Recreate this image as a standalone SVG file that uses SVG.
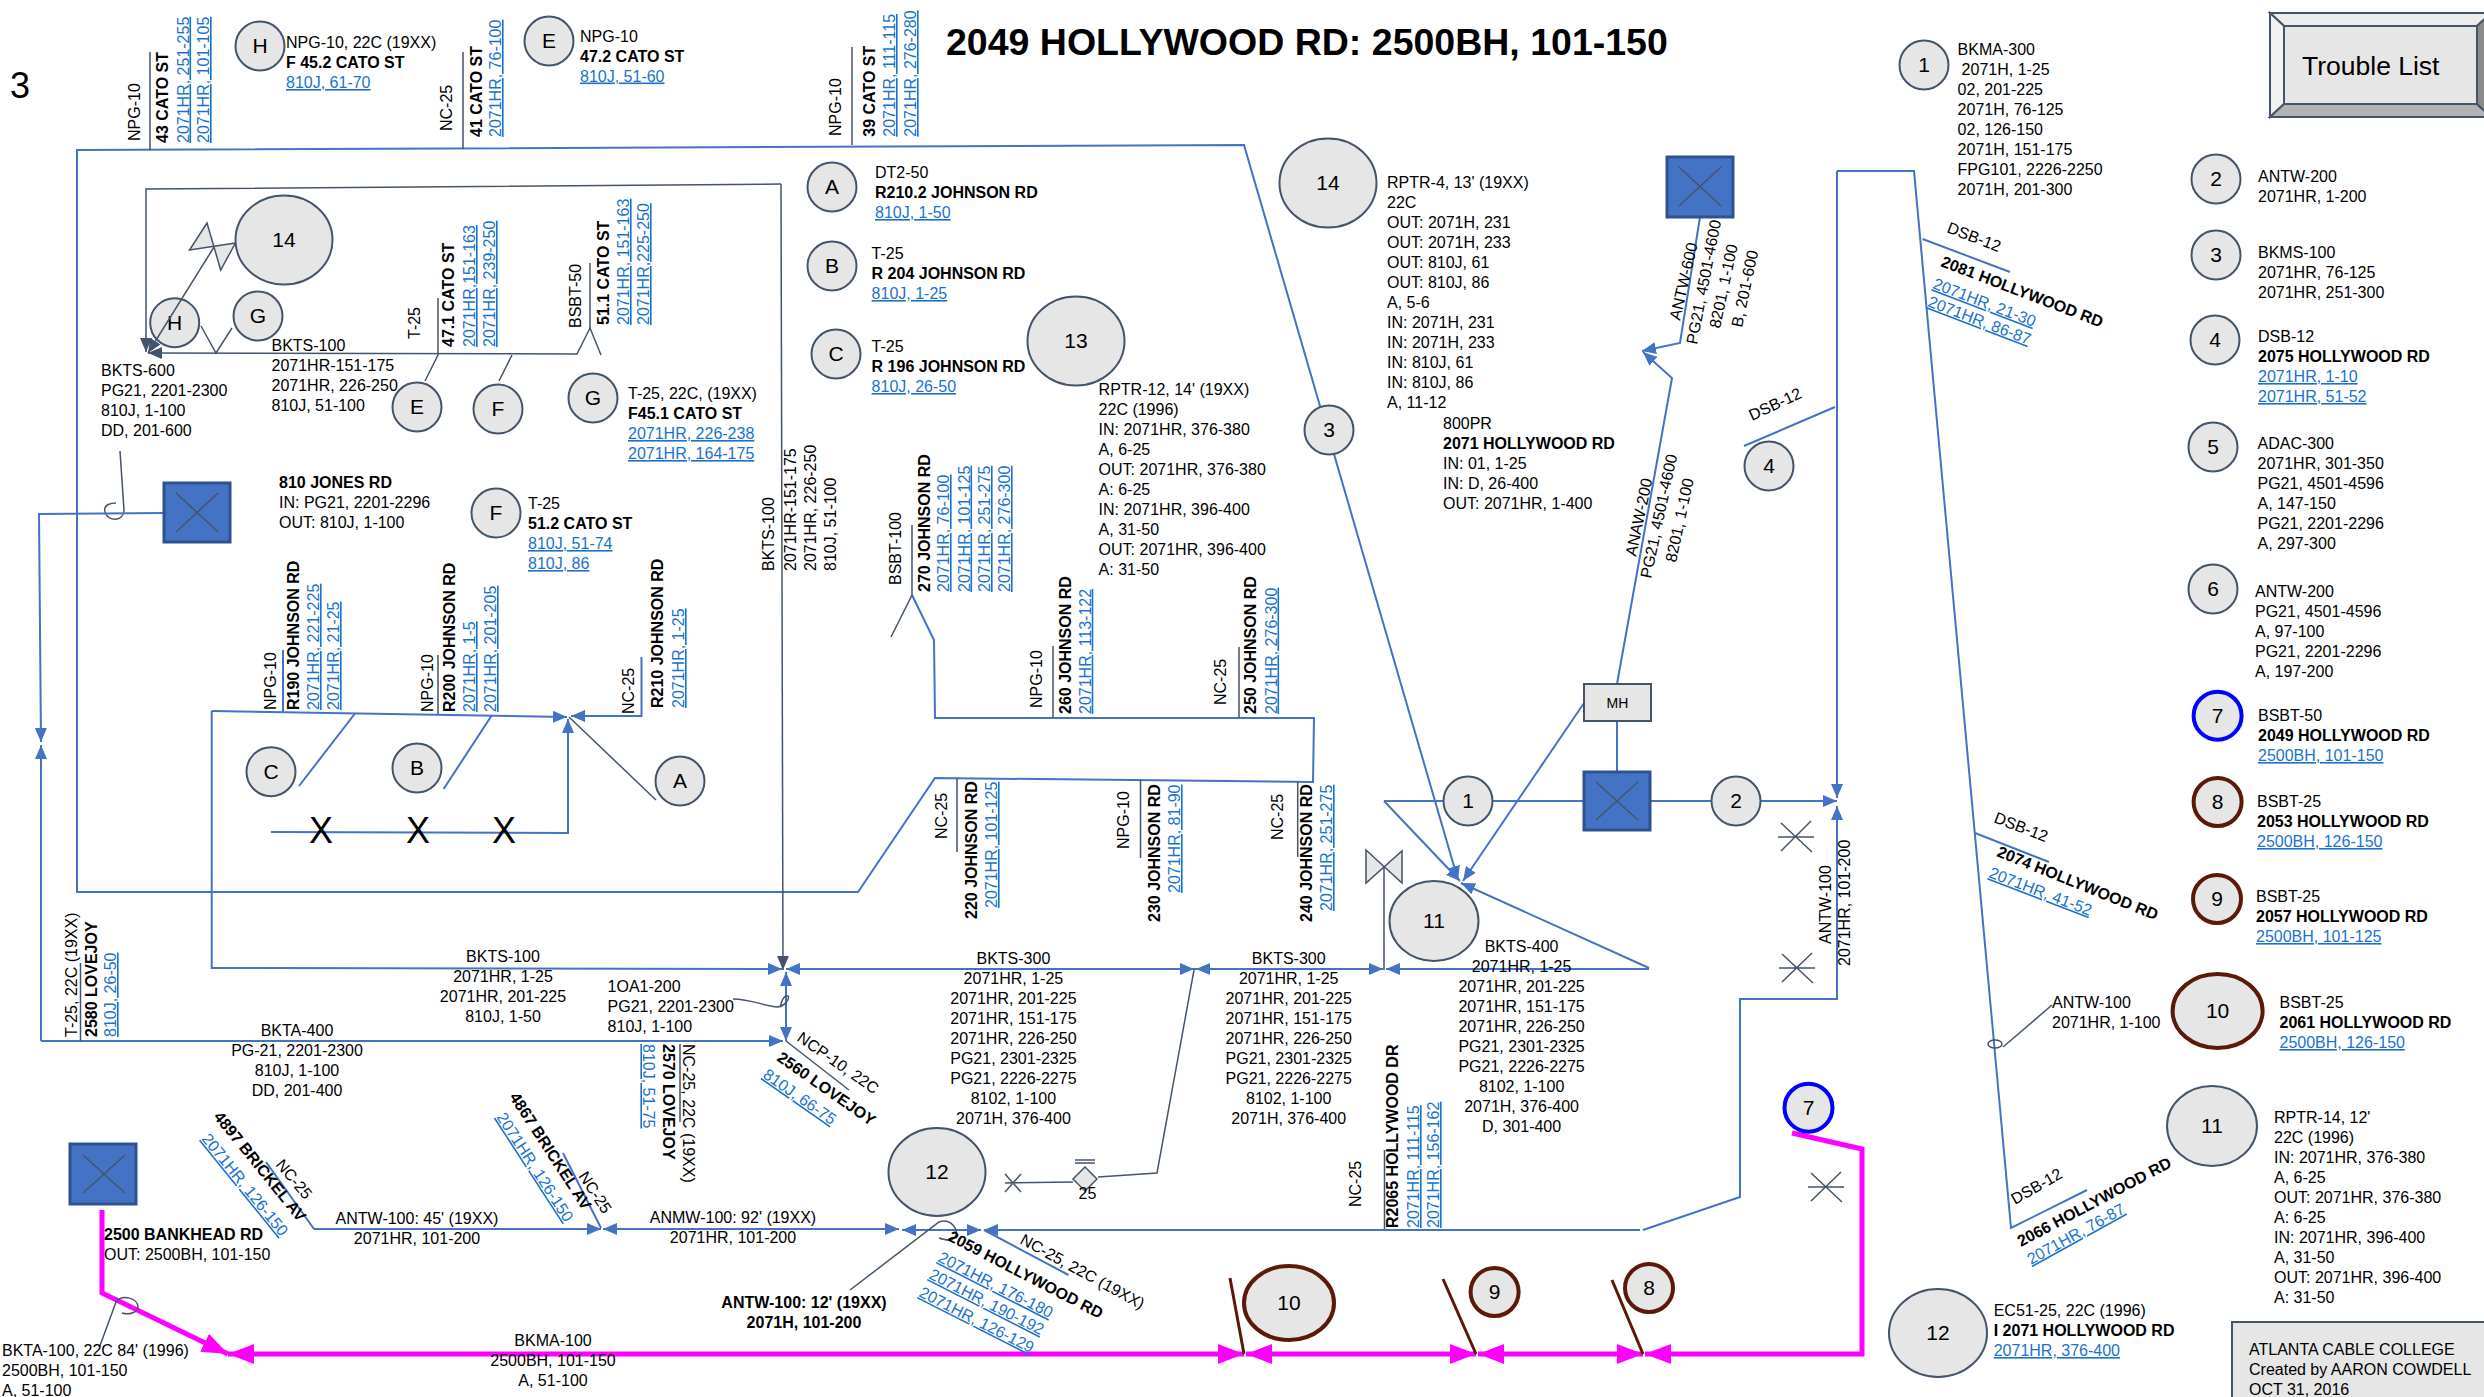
<svg xmlns="http://www.w3.org/2000/svg" width="2484" height="1397" viewBox="0 0 2484 1397">
<defs>
<style>
text{font-family:"Liberation Sans",Arial,sans-serif;font-size:16px;fill:#000}
.b{font-weight:bold}
.l{fill:#1a72cf;text-decoration:underline}
.m{text-anchor:middle}
.k{font-size:21px;text-anchor:middle}
.n{fill:#e6e6e6;stroke:#44546a;stroke-width:2}
.nb{fill:#e6e6e6;stroke:#0000ff;stroke-width:4}
.nr{fill:#e6e6e6;stroke:#5a1a0a;stroke-width:4}
.w{fill:none;stroke:#4472c4;stroke-width:2}
.d{fill:none;stroke:#44546a;stroke-width:1.5}
.p{fill:none;stroke:#ff00ff;stroke-width:5}
.r{fill:none;stroke:#5a1a0a;stroke-width:3}
.sq{fill:#4472c4;stroke:#2f528f;stroke-width:3}
.x{fill:none;stroke:#44546a;stroke-width:1.5}
.ar{marker-end:url(#ab)}
.ad{marker-end:url(#ad)}
.ap{marker-end:url(#ap)}
</style>
<marker id="ab" markerUnits="userSpaceOnUse" markerWidth="14" markerHeight="12" viewBox="0 0 14 12" refX="14" refY="6" orient="auto"><path d="M0,0L14,6L0,12Z" fill="#4472c4"/></marker>
<marker id="ad" markerUnits="userSpaceOnUse" markerWidth="14" markerHeight="12" viewBox="0 0 14 12" refX="14" refY="6" orient="auto"><path d="M0,0L14,6L0,12Z" fill="#44546a"/></marker>
<marker id="ap" markerUnits="userSpaceOnUse" markerWidth="26" markerHeight="20" viewBox="0 0 26 20" refX="26" refY="10" orient="auto"><path d="M0,0L26,10L0,20Z" fill="#ff00ff"/></marker>
</defs>
<rect width="2484" height="1397" fill="#fff"/>
<text id="title" class="b" x="946" y="55" style="font-size:37.5px">2049 HOLLYWOOD RD: 2500BH, 101-150</text>
<text id="page" x="10" y="98" style="font-size:36px">3</text>

<g id="node-Ha"><circle class="n" cx="174.7" cy="322.7" r="24.5"/><text class="k" x="174.7" y="330">H</text></g>

<g id="connectors">
<path class="w ar" d="M912,595L934,640L935,718L1314,718L1313,782L935,778L858,892L77,892L77,150L1244,145L1458,880"/>
<path class="d ad" d="M781,184L146,189L146,352"/>
<path class="d ad" d="M781,184L783,970"/>
<path class="d" d="M150,52V150M463,52V149M852,47V145M438,298V355L425,381M512,355L499,381M590,263V328M201,326L216,353L232,328"/>
<path class="d ad" d="M214,247L148,353"/>
<path class="d ad" d="M601,355L590,328L577,354L148,353"/>
<path d="M207,223L189.5,250L235.5,243L220.7,270Z" fill="#e6e6e6" stroke="#44546a" stroke-width="1.5"/>
<path class="d" d="M120,451L124,510C124,522 108,522 105,512C103,504 112,503 116,503"/>
<path class="w ar" d="M164,513L39,514L41,742"/>
<path class="w ar" d="M41,1041V745"/>
<path class="w ar" d="M41,1041H783"/>
<path class="d" d="M80.5,963V1041"/>
<path class="w ar" d="M211.7,711V968L782,969"/>
<path class="w ar" d="M211.7,711L567,717"/>
<path class="w ar" d="M271,832L568,833V719"/>
<path class="w ar" d="M641.5,657V716H571"/>
<path class="d" d="M656,800L569,717"/>
<path class="w" d="M354.6,714L299,786M492,715L443.6,789M283,650V712"/>
<path class="d" d="M438,655V714"/>
<path class="d" d="M912,525V595L891,637"/>
<path class="d" d="M1053,646V718M1239,647V718M957,778V852M1140.5,780V858M1297.7,782V857M1384.5,1150V1230"/>
<path class="w" d="M1384,801H1584"/>
<path class="w ar" d="M1384,801L1460,881"/>
<path class="w ar" d="M1584,703L1463,881"/>
<path class="w" d="M1617,721V772"/>
<path class="w ar" d="M1649,968L1461,883"/>
<path d="M1366,850L1402,883V851L1366,883Z" fill="#e6e6e6" stroke="#44546a" stroke-width="1.5"/>
<path class="d" d="M1384,866V970"/>
<path class="w ar" d="M1649,969H1386"/>
<path class="w ar" d="M1383,969H1196"/>
<path class="w ar" d="M1196,969H786"/>
<path class="w ar" d="M1000,969H1194"/>
<path class="w ar" d="M1290,969H1383"/>
<path class="w ar" d="M786,1000V972"/>
<path class="w ar" d="M786,1000V1041"/>
<path class="d" d="M733,999C750,999 765,1006 777,1007C784,1007 790,999 788,996C785,994 780,1002 781,1007"/>
<path class="d" d="M786,1041L849,1090"/>
<path class="d" d="M680,1044V1122"/>
<path class="w" d="M266,1162L314,1229"/>
<path class="w ar" d="M314,1229H601"/>
<path class="w ar" d="M750,1229H603"/>
<path class="w ar" d="M750,1229H899"/>
<path class="w ar" d="M940,1230H902"/>
<path class="w ar" d="M940,1230H981"/>
<path class="w" d="M563,1153L601,1228"/>
<path class="w ar" d="M1640,1230H984"/>
<path class="w" d="M984,1230L1068.5,1275"/>
<path class="w ar" d="M1643,1230L1740,1197V999H1837V806"/>
<path class="w ar" d="M1837,171V798"/>
<path class="w" d="M1837,171H1914L2011,1228L2087,1190M1922.6,239L2010,272M1835,407L1744,446M1975,833L2049,862"/>
<path class="w ar" d="M1651,801H1837"/>
<path class="w ar" d="M1700,217L1680,343L1642,351"/>
<path class="w ar" d="M1617,684L1672,378L1643,352"/>
<path class="d" d="M2052,1005L2003,1047"/>
<ellipse class="d" cx="1995" cy="1044" rx="7" ry="4"/>
<path class="d" d="M850,1290L939,1222C950,1218 958,1228 956,1236C952,1242 945,1240 939,1238"/>
<path class="d" d="M1194,970L1157,1173L1098,1177"/>
<path d="M1085,1167L1097,1179L1085,1191L1073,1179Z" fill="#e6e6e6" stroke="#44546a" stroke-width="1.5"/>
<path class="d" d="M1073,1182L1005,1183M1005,1174L1021,1192M1021,1174L1005,1192M1075,1160H1095M1075,1163H1095"/>
<path class="d" d="M1778,837H1814M1781,851L1811,821M1781,823L1812,852M1779,968H1815M1782,982L1812,953M1782,954L1813,983M1808,1187H1844M1811,1201L1841,1172M1811,1173L1842,1202"/>
<path class="p ap" d="M102,1210V1293L228,1354"/>
<path class="p ap" d="M700,1354H228"/>
<path class="p ap" d="M700,1354H1244"/>
<path class="p ap" d="M1360,1354H1246"/>
<path class="p ap" d="M1360,1354H1476"/>
<path class="p ap" d="M1560,1354H1478"/>
<path class="p ap" d="M1560,1354H1643"/>
<path class="p ap" d="M1792,1133L1862,1149V1354H1645"/>
<path class="r" d="M1230,1278L1244,1354M1443,1279L1476,1354M1612,1280L1643,1354"/>
<path class="d" d="M99.5,1347L116,1302C122,1294 138,1298 138,1307C138,1313 128,1315 122,1313"/>
</g>

<g id="rotated-labels">
<text transform="translate(140,141) rotate(-90)">NPG-10</text>
<text class="b" transform="translate(168,143) rotate(-90)">43 CATO ST</text>
<text class="l" transform="translate(188.5,143) rotate(-90)">2071HR, 251-255</text>
<text class="l" transform="translate(209,143) rotate(-90)">2071HR, 101-105</text>
<text transform="translate(452,131) rotate(-90)">NC-25</text>
<text class="b" transform="translate(481.7,137) rotate(-90)">41 CATO ST</text>
<text class="l" transform="translate(501,137) rotate(-90)">2071HR, 76-100</text>
<text transform="translate(841,136) rotate(-90)">NPG-10</text>
<text class="b" transform="translate(875,136.7) rotate(-90)">39 CATO ST</text>
<text class="l" transform="translate(895,136.7) rotate(-90)">2071HR, 111-115</text>
<text class="l" transform="translate(916,136.7) rotate(-90)">2071HR, 276-280</text>
<text transform="translate(420,339) rotate(-90)">T-25</text>
<text class="b" transform="translate(454,347) rotate(-90)">47.1 CATO ST</text>
<text class="l" transform="translate(475,347) rotate(-90)">2071HR,151-163</text>
<text class="l" transform="translate(495,347) rotate(-90)">2071HR, 239-250</text>
<text transform="translate(581,328) rotate(-90)">BSBT-50</text>
<text class="b" transform="translate(609,325) rotate(-90)">51.1 CATO ST</text>
<text class="l" transform="translate(629,325) rotate(-90)">2071HR, 151-163</text>
<text class="l" transform="translate(649,325) rotate(-90)">2071HR,225-250</text>
<text transform="translate(774,571) rotate(-90)">BKTS-100</text>
<text transform="translate(795.5,571) rotate(-90)">2071HR-151-175</text>
<text transform="translate(816,571) rotate(-90)">2071HR, 226-250</text>
<text transform="translate(835.5,571) rotate(-90)">810J, 51-100</text>
<text transform="translate(276,710) rotate(-90)">NPG-10</text>
<text class="b" transform="translate(299,710) rotate(-90)">R190 JOHNSON RD</text>
<text class="l" transform="translate(319,710) rotate(-90)">2071HR, 221-225</text>
<text class="l" transform="translate(339,710) rotate(-90)">2071HR, 21-25</text>
<text transform="translate(433,712) rotate(-90)">NPG-10</text>
<text class="b" transform="translate(455,712) rotate(-90)">R200 JOHNSON RD</text>
<text class="l" transform="translate(475,712) rotate(-90)">2071HR, 1-5</text>
<text class="l" transform="translate(496,712) rotate(-90)">2071HR, 201-205</text>
<text transform="translate(633.6,714) rotate(-90)">NC-25</text>
<text class="b" transform="translate(663,708) rotate(-90)">R210 JOHNSON RD</text>
<text class="l" transform="translate(684,708) rotate(-90)">2071HR, 1-25</text>
<text transform="translate(900.7,585) rotate(-90)">BSBT-100</text>
<text class="b" transform="translate(930,592) rotate(-90)">270 JOHNSON RD</text>
<text class="l" transform="translate(949,592) rotate(-90)">2071HR, 76-100</text>
<text class="l" transform="translate(969.5,592) rotate(-90)">2071HR, 101-125</text>
<text class="l" transform="translate(990,592) rotate(-90)">2071HR, 251-275</text>
<text class="l" transform="translate(1010,592) rotate(-90)">2071HR, 276-300</text>
<text transform="translate(1042,708) rotate(-90)">NPG-10</text>
<text class="b" transform="translate(1071,714) rotate(-90)">260 JOHNSON RD</text>
<text class="l" transform="translate(1090.7,714) rotate(-90)">2071HR, 113-122</text>
<text transform="translate(1226,705) rotate(-90)">NC-25</text>
<text class="b" transform="translate(1256,714) rotate(-90)">250 JOHNSON RD</text>
<text class="l" transform="translate(1276.5,714) rotate(-90)">2071HR, 276-300</text>
<text transform="translate(947,839) rotate(-90)">NC-25</text>
<text class="b" transform="translate(977,919) rotate(-90)">220 JOHNSON RD</text>
<text class="l" transform="translate(997,908) rotate(-90)">2071HR, 101-125</text>
<text transform="translate(1129,849) rotate(-90)">NPG-10</text>
<text class="b" transform="translate(1160,922) rotate(-90)">230 JOHNSON RD</text>
<text class="l" transform="translate(1180,893) rotate(-90)">2071HR, 81-90</text>
<text transform="translate(1283,840) rotate(-90)">NC-25</text>
<text class="b" transform="translate(1312,922) rotate(-90)">240 JOHNSON RD</text>
<text class="l" transform="translate(1332,911) rotate(-90)">2071HR, 251-275</text>
<text transform="translate(77,1037) rotate(-90)">T-25, 22C (19XX)</text>
<text class="b" transform="translate(97,1037) rotate(-90)">2580 LOVEJOY</text>
<text class="l" transform="translate(116,1037) rotate(-90)">810J, 26-50</text>
<text transform="translate(683,1044) rotate(90)">NC-25, 22C (19XX)</text>
<text class="b" transform="translate(663,1044) rotate(90)">2570 LOVEJOY</text>
<text class="l" transform="translate(643,1044) rotate(90)">810J, 51-75</text>
<text transform="translate(1360.6,1207) rotate(-90)">NC-25</text>
<text class="b" transform="translate(1398,1228) rotate(-90)">R2065 HOLLYWOOD DR</text>
<text class="l" transform="translate(1419,1228) rotate(-90)">2071HR, 111-115</text>
<text class="l" transform="translate(1439,1228) rotate(-90)">2071HR, 156-162</text>
<text transform="translate(1831,944) rotate(-90)">ANTW-100</text>
<text transform="translate(1850,966) rotate(-90)">2071HR, 101-200</text>
</g>

<g id="slanted-labels">
<text transform="translate(1680,321) rotate(-77)">ANTW-600</text>
<text transform="translate(1697,345) rotate(-79)">PG21, 4501-4600</text>
<text transform="translate(1720,329) rotate(-78)">8201, 1-100</text>
<text transform="translate(1742,328) rotate(-78)">B, 201-600</text>
<text transform="translate(1636,557) rotate(-78)">ANAW-200</text>
<text transform="translate(1651,579) rotate(-78)">PG21, 4501-4600</text>
<text transform="translate(1676,563) rotate(-78)">8201, 1-100</text>
<text transform="translate(1946,232) rotate(21)">DSB-12</text>
<text class="b" transform="translate(1940,266) rotate(21)">2081 HOLLYWOOD RD</text>
<text class="l" transform="translate(1932,288) rotate(21)">2071HR, 21-30</text>
<text class="l" transform="translate(1927,306) rotate(21)">2071HR, 86-87</text>
<text transform="translate(1752,421) rotate(-25)">DSB-12</text>
<text transform="translate(1993,822) rotate(21)">DSB-12</text>
<text class="b" transform="translate(1996,856) rotate(22)">2074 HOLLYWOOD RD</text>
<text class="l" transform="translate(1988,877) rotate(21)">2071HR, 41-52</text>
<text transform="translate(2015,1205) rotate(-30)">DSB-12</text>
<text class="b" transform="translate(2021,1247) rotate(-28)">2066 HOLLYWOOD RD</text>
<text class="l" transform="translate(2031,1265) rotate(-29)">2071HR, 76-87</text>
<text transform="translate(796,1040) rotate(35)">NCP-10, 22C</text>
<text class="b" transform="translate(776,1060) rotate(35)">2560 LOVEJOY</text>
<text class="l" transform="translate(762,1077) rotate(35)">810J, 66-75</text>
<text class="b" transform="translate(213,1117) rotate(51)">4897 BRICKEL AV</text>
<text class="l" transform="translate(201,1139) rotate(51)">2071HR, 126-150</text>
<text transform="translate(275,1165) rotate(50)">NC-25</text>
<text class="b" transform="translate(509,1097) rotate(57)">4867 BRICKEL AV</text>
<text class="l" transform="translate(496,1117) rotate(57)">2071HR, 126-150</text>
<text transform="translate(578,1176) rotate(57)">NC-25</text>
<text transform="translate(1019,1243) rotate(28.7)">NC-25, 22C (19XX)</text>
<text class="b" transform="translate(947,1240) rotate(27.4)">2059 HOLLYWOOD RD</text>
<text class="l" transform="translate(937,1261) rotate(27)">2071HR, 176-180</text>
<text class="l" transform="translate(928,1278) rotate(27)">2071HR, 190-192</text>
<text class="l" transform="translate(918,1296) rotate(27)">2071HR, 126-129</text>
</g>

<g id="cable-labels">
<text x="271.5" y="351">BKTS-100<tspan x="271.5" dy="20">2071HR-151-175</tspan><tspan x="271.5" dy="20">2071HR, 226-250</tspan><tspan x="271.5" dy="20">810J, 51-100</tspan></text>
<text x="101" y="376">BKTS-600<tspan x="101" dy="20">PG21, 2201-2300</tspan><tspan x="101" dy="20">810J, 1-100</tspan><tspan x="101" dy="20">DD, 201-600</tspan></text>
<text class="m" x="297" y="1036">BKTA-400<tspan x="297" dy="20">PG-21, 2201-2300</tspan><tspan x="297" dy="20">810J, 1-100</tspan><tspan x="297" dy="20">DD, 201-400</tspan></text>
<text class="m" x="503" y="962">BKTS-100<tspan x="503" dy="20">2071HR, 1-25</tspan><tspan x="503" dy="20">2071HR, 201-225</tspan><tspan x="503" dy="20">810J, 1-50</tspan></text>
<text x="607.6" y="992">1OA1-200<tspan x="607.6" dy="20">PG21, 2201-2300</tspan><tspan x="607.6" dy="20">810J, 1-100</tspan></text>
<text class="m" x="1013.4" y="964">BKTS-300<tspan x="1013.4" dy="20">2071HR, 1-25</tspan><tspan x="1013.4" dy="20">2071HR, 201-225</tspan><tspan x="1013.4" dy="20">2071HR, 151-175</tspan><tspan x="1013.4" dy="20">2071HR, 226-250</tspan><tspan x="1013.4" dy="20">PG21, 2301-2325</tspan><tspan x="1013.4" dy="20">PG21, 2226-2275</tspan><tspan x="1013.4" dy="20">8102, 1-100</tspan><tspan x="1013.4" dy="20">2071H, 376-400</tspan></text>
<text class="m" x="1288.7" y="964">BKTS-300<tspan x="1288.7" dy="20">2071HR, 1-25</tspan><tspan x="1288.7" dy="20">2071HR, 201-225</tspan><tspan x="1288.7" dy="20">2071HR, 151-175</tspan><tspan x="1288.7" dy="20">2071HR, 226-250</tspan><tspan x="1288.7" dy="20">PG21, 2301-2325</tspan><tspan x="1288.7" dy="20">PG21, 2226-2275</tspan><tspan x="1288.7" dy="20">8102, 1-100</tspan><tspan x="1288.7" dy="20">2071H, 376-400</tspan></text>
<text class="m" x="1521.6" y="952">BKTS-400<tspan x="1521.6" dy="20">2071HR, 1-25</tspan><tspan x="1521.6" dy="20">2071HR, 201-225</tspan><tspan x="1521.6" dy="20">2071HR, 151-175</tspan><tspan x="1521.6" dy="20">2071HR, 226-250</tspan><tspan x="1521.6" dy="20">PG21, 2301-2325</tspan><tspan x="1521.6" dy="20">PG21, 2226-2275</tspan><tspan x="1521.6" dy="20">8102, 1-100</tspan><tspan x="1521.6" dy="20">2071H, 376-400</tspan><tspan x="1521.6" dy="20">D, 301-400</tspan></text>
<text class="m" x="417" y="1224">ANTW-100: 45' (19XX)<tspan x="417" dy="20">2071HR, 101-200</tspan></text>
<text class="m" x="733" y="1223">ANMW-100: 92' (19XX)<tspan x="733" dy="20">2071HR, 101-200</tspan></text>
<text class="m b" x="804" y="1308">ANTW-100: 12' (19XX)<tspan x="804" dy="20">2071H, 101-200</tspan></text>
<text x="2" y="1356">BKTA-100, 22C 84' (1996)<tspan x="2" dy="20">2500BH, 101-150</tspan><tspan x="2" dy="20">A, 51-100</tspan></text>
<text class="m" x="553" y="1346">BKMA-100<tspan x="553" dy="20">2500BH, 101-150</tspan><tspan x="553" dy="20">A, 51-100</tspan></text>
<text x="2052" y="1008">ANTW-100<tspan x="2052" dy="20">2071HR, 1-100</tspan></text>
<text class="m" x="1087.5" y="1199">25</text>
<text x="309" y="843" style="font-size:36px">X</text>
<text x="406" y="843" style="font-size:36px">X</text>
<text x="492" y="843" style="font-size:36px">X</text>
</g>

<g id="node-H"><circle class="n" cx="260" cy="46" r="24.5"/><text class="k" x="260" y="53">H</text>
<text x="286" y="48">NPG-10, 22C (19XX)</text><text class="b" x="286" y="68">F 45.2 CATO ST</text><text class="l" x="286" y="88">810J, 61-70</text></g>
<g id="node-E"><circle class="n" cx="549" cy="41" r="24.5"/><text class="k" x="549" y="48">E</text>
<text x="580" y="41.5">NPG-10</text><text class="b" x="580" y="61.5">47.2 CATO ST</text><text class="l" x="580" y="81.5">810J, 51-60</text></g>
<g id="node-14a"><ellipse class="n" cx="284" cy="240" rx="48.5" ry="44.5"/><text class="k" x="284" y="247">14</text></g>
<g id="node-Ga"><circle class="n" cx="258" cy="316" r="24.5"/><text class="k" x="258" y="323">G</text></g>
<g id="node-Ea"><circle class="n" cx="417" cy="407" r="24.5"/><text class="k" x="417" y="414">E</text></g>
<g id="node-Fa"><circle class="n" cx="498" cy="409" r="24.5"/><text class="k" x="498" y="416">F</text></g>
<g id="node-G"><circle class="n" cx="593" cy="398" r="24.5"/><text class="k" x="593" y="405">G</text>
<text x="628" y="399">T-25, 22C, (19XX)</text><text class="b" x="628" y="419">F45.1 CATO ST</text><text class="l" x="628" y="439">2071HR, 226-238</text><text class="l" x="628" y="459">2071HR, 164-175</text></g>
<g id="node-F"><circle class="n" cx="496" cy="513" r="24.5"/><text class="k" x="496" y="520">F</text>
<text x="528" y="509">T-25</text><text class="b" x="528" y="529">51.2 CATO ST</text><text class="l" x="528" y="549">810J, 51-74</text><text class="l" x="528" y="569">810J, 86</text></g>
<g id="node-A"><circle class="n" cx="832" cy="187" r="24.5"/><text class="k" x="832" y="194">A</text>
<text x="875" y="178">DT2-50</text><text class="b" x="875" y="198">R210.2 JOHNSON RD</text><text class="l" x="875" y="218">810J, 1-50</text></g>
<g id="node-B"><circle class="n" cx="832" cy="266" r="24.5"/><text class="k" x="832" y="273">B</text>
<text x="871.6" y="259">T-25</text><text class="b" x="871.6" y="279">R 204 JOHNSON RD</text><text class="l" x="871.6" y="299">810J, 1-25</text></g>
<g id="node-C"><circle class="n" cx="836" cy="354" r="24.5"/><text class="k" x="836" y="361">C</text>
<text x="871.6" y="352">T-25</text><text class="b" x="871.6" y="372">R 196 JOHNSON RD</text><text class="l" x="871.6" y="392">810J, 26-50</text></g>
<g id="node-Cb"><circle class="n" cx="271" cy="771.7" r="24.5"/><text class="k" x="271" y="779">C</text></g>
<g id="node-Bb"><circle class="n" cx="417" cy="768" r="24.5"/><text class="k" x="417" y="775">B</text></g>
<g id="node-Ab"><circle class="n" cx="680" cy="781" r="24.5"/><text class="k" x="680" y="788">A</text></g>
<g id="node-13"><ellipse class="n" cx="1076" cy="341" rx="48.5" ry="44.5"/><text class="k" x="1076" y="348">13</text>
<text x="1098.6" y="395">RPTR-12, 14' (19XX)<tspan x="1098.6" dy="20">22C (1996)</tspan><tspan x="1098.6" dy="20">IN: 2071HR, 376-380</tspan><tspan x="1098.6" dy="20">A, 6-25</tspan><tspan x="1098.6" dy="20">OUT: 2071HR, 376-380</tspan><tspan x="1098.6" dy="20">A: 6-25</tspan><tspan x="1098.6" dy="20">IN: 2071HR, 396-400</tspan><tspan x="1098.6" dy="20">A, 31-50</tspan><tspan x="1098.6" dy="20">OUT: 2071HR, 396-400</tspan><tspan x="1098.6" dy="20">A: 31-50</tspan></text></g>
<g id="node-14"><ellipse class="n" cx="1328" cy="183" rx="48.5" ry="44.5"/><text class="k" x="1328" y="190">14</text>
<text x="1387" y="188">RPTR-4, 13' (19XX)<tspan x="1387" dy="20">22C</tspan><tspan x="1387" dy="20">OUT: 2071H, 231</tspan><tspan x="1387" dy="20">OUT: 2071H, 233</tspan><tspan x="1387" dy="20">OUT: 810J, 61</tspan><tspan x="1387" dy="20">OUT: 810J, 86</tspan><tspan x="1387" dy="20">A, 5-6</tspan><tspan x="1387" dy="20">IN: 2071H, 231</tspan><tspan x="1387" dy="20">IN: 2071H, 233</tspan><tspan x="1387" dy="20">IN: 810J, 61</tspan><tspan x="1387" dy="20">IN: 810J, 86</tspan><tspan x="1387" dy="20">A, 11-12</tspan></text></g>
<g id="node-3a"><circle class="n" cx="1329" cy="430" r="24.5"/><text class="k" x="1329" y="437">3</text></g>
<g id="node-800PR"><text x="1443" y="429">800PR</text><text class="b" x="1443" y="449">2071 HOLLYWOOD RD</text><text x="1443" y="469">IN: 01, 1-25<tspan x="1443" dy="20">IN: D, 26-400</tspan><tspan x="1443" dy="20">OUT: 2071HR, 1-400</tspan></text></g>
<g id="node-1a"><circle class="n" cx="1468" cy="801" r="24.5"/><text class="k" x="1468" y="808">1</text></g>
<g id="node-2a"><circle class="n" cx="1736" cy="801" r="24.5"/><text class="k" x="1736" y="808">2</text></g>
<g id="node-4a"><circle class="n" cx="1769" cy="466" r="24.5"/><text class="k" x="1769" y="473">4</text></g>
<g id="node-11a"><ellipse class="n" cx="1434" cy="921" rx="44.5" ry="40"/><text class="k" x="1434" y="928">11</text></g>
<g id="node-12a"><ellipse class="n" cx="937" cy="1172" rx="48.5" ry="44"/><text class="k" x="937" y="1179">12</text></g>
<g id="node-10a"><ellipse class="nr" cx="1289" cy="1303" rx="45" ry="37"/><text class="k" x="1289" y="1310">10</text></g>
<g id="node-9a"><circle class="nr" cx="1494.6" cy="1292" r="24"/><text class="k" x="1494.6" y="1299">9</text></g>
<g id="node-8a"><circle class="nr" cx="1649" cy="1288" r="24"/><text class="k" x="1649" y="1295">8</text></g>
<g id="node-7a"><circle class="nb" cx="1808.5" cy="1107.7" r="24"/><text class="k" x="1808.5" y="1115">7</text></g>

<g id="sq-jones"><rect class="sq" x="164" y="483" width="66" height="59"/><path class="x" d="M176,493L218,532M218,493L176,532"/><text class="b" x="279" y="488">810 JONES RD</text><text x="279" y="508">IN: PG21, 2201-2296<tspan x="279" dy="20">OUT: 810J, 1-100</tspan></text></g>
<g id="sq-top"><rect class="sq" x="1667" y="157" width="66" height="60"/><path class="x" d="M1679,167L1721,206M1721,167L1679,206"/></g>
<g id="sq-mid"><rect class="sq" x="1584" y="772" width="66" height="58"/><path class="x" d="M1596,782L1638,820M1638,782L1596,820"/></g>
<g id="sq-bank"><rect class="sq" x="70" y="1144" width="66" height="60"/><path class="x" d="M83,1155L125,1193M125,1155L83,1193"/><text class="b" x="104" y="1240">2500 BANKHEAD RD</text><text x="104" y="1260">OUT: 2500BH, 101-150</text></g>
<g id="node-MH"><rect x="1584" y="684" width="67" height="37" fill="#e6e6e6" stroke="#44546a" stroke-width="2"/><text class="m" x="1617.5" y="708" style="font-size:14px">MH</text></g>

<g id="key-1"><circle class="n" cx="1924" cy="65" r="24.5"/><text class="k" x="1924" y="72">1</text>
<text x="1957.6" y="55">BKMA-300<tspan x="1961.6" dy="20">2071H, 1-25</tspan><tspan x="1957.6" dy="20">02, 201-225</tspan><tspan x="1957.6" dy="20">2071H, 76-125</tspan><tspan x="1957.6" dy="20">02, 126-150</tspan><tspan x="1957.6" dy="20">2071H, 151-175</tspan><tspan x="1957.6" dy="20">FPG101, 2226-2250</tspan><tspan x="1957.6" dy="20">2071H, 201-300</tspan></text></g>
<g id="key-2"><circle class="n" cx="2216" cy="179" r="24.5"/><text class="k" x="2216" y="186">2</text><text x="2258" y="182">ANTW-200<tspan x="2258" dy="20">2071HR, 1-200</tspan></text></g>
<g id="key-3"><circle class="n" cx="2216" cy="255" r="24.5"/><text class="k" x="2216" y="262">3</text><text x="2258" y="258">BKMS-100<tspan x="2258" dy="20">2071HR, 76-125</tspan><tspan x="2258" dy="20">2071HR, 251-300</tspan></text></g>
<g id="key-4"><circle class="n" cx="2215" cy="340" r="24.5"/><text class="k" x="2215" y="347">4</text><text x="2258" y="342">DSB-12</text><text class="b" x="2258" y="362">2075 HOLLYWOOD RD</text><text class="l" x="2258" y="382">2071HR, 1-10</text><text class="l" x="2258" y="402">2071HR, 51-52</text></g>
<g id="key-5"><circle class="n" cx="2213" cy="447" r="24.5"/><text class="k" x="2213" y="454">5</text><text x="2257.5" y="449">ADAC-300<tspan x="2257.5" dy="20">2071HR, 301-350</tspan><tspan x="2257.5" dy="20">PG21, 4501-4596</tspan><tspan x="2257.5" dy="20">A, 147-150</tspan><tspan x="2257.5" dy="20">PG21, 2201-2296</tspan><tspan x="2257.5" dy="20">A, 297-300</tspan></text></g>
<g id="key-6"><circle class="n" cx="2213" cy="589" r="24.5"/><text class="k" x="2213" y="596">6</text><text x="2255" y="597">ANTW-200<tspan x="2255" dy="20">PG21, 4501-4596</tspan><tspan x="2255" dy="20">A, 97-100</tspan><tspan x="2255" dy="20">PG21, 2201-2296</tspan><tspan x="2255" dy="20">A, 197-200</tspan></text></g>
<g id="key-7"><circle class="nb" cx="2217.6" cy="715.7" r="24"/><text class="k" x="2217.6" y="723">7</text><text x="2258" y="721">BSBT-50</text><text class="b" x="2258" y="741">2049 HOLLYWOOD RD</text><text class="l" x="2258" y="761">2500BH, 101-150</text></g>
<g id="key-8"><circle class="nr" cx="2217.6" cy="802" r="24"/><text class="k" x="2217.6" y="809">8</text><text x="2257" y="807">BSBT-25</text><text class="b" x="2257" y="827">2053 HOLLYWOOD RD</text><text class="l" x="2257" y="847">2500BH, 126-150</text></g>
<g id="key-9"><circle class="nr" cx="2217" cy="899" r="24"/><text class="k" x="2217" y="906">9</text><text x="2256" y="902">BSBT-25</text><text class="b" x="2256" y="922">2057 HOLLYWOOD RD</text><text class="l" x="2256" y="942">2500BH, 101-125</text></g>
<g id="key-10"><ellipse class="nr" cx="2217.6" cy="1011" rx="45" ry="37"/><text class="k" x="2217.6" y="1018">10</text><text x="2279.5" y="1008">BSBT-25</text><text class="b" x="2279.5" y="1028">2061 HOLLYWOOD RD</text><text class="l" x="2279.5" y="1048">2500BH, 126-150</text></g>
<g id="key-11"><ellipse class="n" cx="2212" cy="1126" rx="45" ry="40"/><text class="k" x="2212" y="1133">11</text><text x="2274" y="1123">RPTR-14, 12'<tspan x="2274" dy="20">22C (1996)</tspan><tspan x="2274" dy="20">IN: 2071HR, 376-380</tspan><tspan x="2274" dy="20">A, 6-25</tspan><tspan x="2274" dy="20">OUT: 2071HR, 376-380</tspan><tspan x="2274" dy="20">A: 6-25</tspan><tspan x="2274" dy="20">IN: 2071HR, 396-400</tspan><tspan x="2274" dy="20">A, 31-50</tspan><tspan x="2274" dy="20">OUT: 2071HR, 396-400</tspan><tspan x="2274" dy="20">A: 31-50</tspan></text></g>
<g id="key-12"><ellipse class="n" cx="1938" cy="1333" rx="49" ry="44"/><text class="k" x="1938" y="1340">12</text><text x="1993.7" y="1316">EC51-25, 22C (1996)</text><text class="b" x="1993.7" y="1336">I 2071 HOLLYWOOD RD</text><text class="l" x="1993.7" y="1356">2071HR, 376-400</text></g>

<g id="trouble-list">
<path d="M2270,13H2491L2477,26H2284Z" fill="#ececec" stroke="#44546a" stroke-width="2"/>
<path d="M2270,13L2284,26V104L2270,117Z" fill="#f2f2f2" stroke="#44546a" stroke-width="2"/>
<path d="M2270,117L2284,104H2477L2491,117Z" fill="#b3b3b3" stroke="#44546a" stroke-width="2"/>
<path d="M2491,13L2477,26V104L2491,117Z" fill="#8a8a8a" stroke="#44546a" stroke-width="2"/>
<rect x="2284" y="26" width="193" height="78" fill="#e6e6e6" stroke="#44546a" stroke-width="2"/>
<text x="2302" y="75" style="font-size:26.5px">Trouble List</text>
</g>
<g id="credit"><rect x="2232" y="1322" width="260" height="90" fill="#e6e6e6" stroke="#44546a" stroke-width="2"/>
<text x="2249" y="1355">ATLANTA CABLE COLLEGE<tspan x="2249" dy="20">Created by AARON COWDELL</tspan><tspan x="2249" dy="20">OCT 31, 2016</tspan></text></g>
</svg>
